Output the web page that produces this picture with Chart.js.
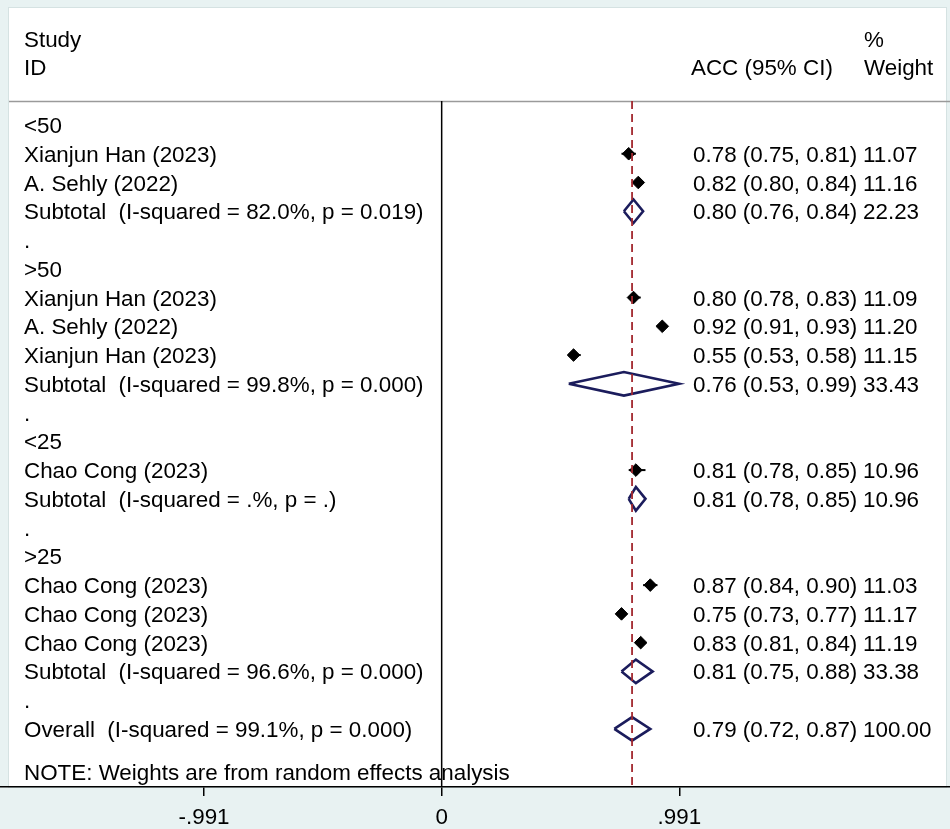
<!DOCTYPE html>
<html>
<head>
<meta charset="utf-8">
<script src="https://cdn.jsdelivr.net/npm/chart.js@4"></script>
<style>
  html, body { margin: 0; padding: 0; background: #fff; }
  #wrap { width: 950px; height: 829px; }
</style>
</head>
<body>
<div id="wrap"><canvas id="forest" width="950" height="829"></canvas></div>
<script>
// rows of the forest plot, top to bottom
const rowLabels = [
  '<50',
  'Xianjun Han (2023)',
  'A. Sehly (2022)',
  'Subtotal  (I-squared = 82.0%, p = 0.019)',
  '.',
  '>50',
  'Xianjun Han (2023)',
  'A. Sehly (2022)',
  'Xianjun Han (2023)',
  'Subtotal  (I-squared = 99.8%, p = 0.000)',
  '.',
  '<25',
  'Chao Cong (2023)',
  'Subtotal  (I-squared = .%, p = .)',
  '.',
  '>25',
  'Chao Cong (2023)',
  'Chao Cong (2023)',
  'Chao Cong (2023)',
  'Subtotal  (I-squared = 96.6%, p = 0.000)',
  '.',
  'Overall  (I-squared = 99.1%, p = 0.000)'
];
const rowKinds = ['group','study','study','subtotal','blank',
  'group','study','study','study','subtotal','blank',
  'group','study','subtotal','blank',
  'group','study','study','study','subtotal','blank','overall'];
const estimates = [null, 0.78, 0.82, 0.80, null, null, 0.80, 0.92, 0.55, 0.76, null,
  null, 0.81, 0.81, null, null, 0.87, 0.75, 0.83, 0.81, null, 0.794];
const lower = [null, 0.75, 0.80, 0.76, null, null, 0.78, 0.91, 0.53, 0.53, null,
  null, 0.78, 0.78, null, null, 0.84, 0.73, 0.81, 0.75, null, 0.72];
const upper = [null, 0.81, 0.84, 0.84, null, null, 0.83, 0.93, 0.58, 0.99, null,
  null, 0.85, 0.85, null, null, 0.90, 0.77, 0.84, 0.88, null, 0.87];
const weights = [null, 11.07, 11.16, 22.23, null, null, 11.09, 11.20, 11.15, 33.43, null,
  null, 10.96, 10.96, null, null, 11.03, 11.17, 11.19, 33.38, null, 100.00];

const tickValues = [-0.991, 0, 0.991];
const tickLabels = ['-.991', '0', '.991'];
const noteText = 'NOTE: Weights are from random effects analysis';

const FONT_FAMILY = '"Liberation Sans", Arial, sans-serif';
const FONT = '22.4px ' + FONT_FAMILY;
const NAVY = '#1b1c5c';
const Y_MIN = -0.834, Y_MAX = 23.02;

let datasets = [];

// solid line at zero
datasets.push({
  data: [{x: 0, y: Y_MIN}, {x: 0, y: Y_MAX}],
  showLine: true, borderColor: '#000', borderWidth: 1.5, pointRadius: 0
});

// dashed line at the overall estimate
const overallIdx = rowKinds.indexOf('overall');
datasets.push({
  data: [{x: estimates[overallIdx], y: Y_MIN}, {x: estimates[overallIdx], y: Y_MAX}],
  showLine: true, borderColor: '#a3282f', borderWidth: 1.8, borderDash: [8, 5], pointRadius: 0
});

// whiskers + study markers
rowKinds.forEach(function(kind, i) {
  if (kind !== 'study') return;
  datasets.push({
    data: [{x: lower[i], y: i}, {x: upper[i], y: i}],
    showLine: true, borderColor: '#000', borderWidth: 2, pointRadius: 0
  });
});
datasets.push({
  data: rowKinds.map(function(k, i) { return k === 'study' ? {x: estimates[i], y: i} : null; })
    .filter(function(p) { return p; }),
  pointStyle: 'rectRot', pointRadius: 6.3, pointBackgroundColor: '#000',
  pointBorderColor: '#000', pointBorderWidth: 1, showLine: false
});

// pooled diamonds
rowKinds.forEach(function(kind, i) {
  if (kind !== 'subtotal' && kind !== 'overall') return;
  const h = 0.41;
  datasets.push({
    data: [
      {x: lower[i], y: i}, {x: estimates[i], y: i - h}, {x: upper[i], y: i},
      {x: estimates[i], y: i + h}, {x: lower[i], y: i}
    ],
    showLine: true, borderColor: NAVY, borderWidth: 2.6, borderJoinStyle: 'miter',
    pointRadius: 0, fill: false, tension: 0
  });
});

const frame = {
  id: 'frame',
  beforeDraw: function(chart) {
    const c = chart.ctx;
    c.save();
    c.fillStyle = '#e8f2f2';
    c.fillRect(0, 0, chart.width, chart.height);
    c.fillStyle = '#fff';
    c.fillRect(8, 7, 939, chart.chartArea.bottom - 7);
    c.strokeStyle = '#d5e2e2';
    c.lineWidth = 1;
    c.strokeRect(8.5, 7.5, 938, chart.chartArea.bottom - 7);
    // header rule
    c.strokeStyle = '#9a9a9a';
    c.lineWidth = 1.5;
    c.beginPath();
    c.moveTo(9, chart.chartArea.top + 0.5);
    c.lineTo(chart.width, chart.chartArea.top + 0.5);
    c.stroke();
    c.restore();
  },
  afterDraw: function(chart) {
    const c = chart.ctx;
    const y = chart.scales.y;
    const base = function(row) { return y.getPixelForValue(row) + 8; };
    c.save();
    c.font = FONT;
    c.fillStyle = '#000';
    c.textBaseline = 'alphabetic';
    c.textAlign = 'left';
    c.fillText('Study', 24, base(-3));
    c.fillText('ID', 24, base(-2));
    c.fillText('ACC (95% CI)', 691, base(-2));
    c.fillText('%', 864, base(-3));
    c.fillText('Weight', 864, base(-2));
    rowLabels.forEach(function(label, i) {
      c.fillText(label, 24, base(i));
      if (estimates[i] !== null) {
        c.fillText(estimates[i].toFixed(2) + ' (' + lower[i].toFixed(2) + ', ' +
          upper[i].toFixed(2) + ')', 693, base(i));
        c.fillText(weights[i].toFixed(2), 863, base(i));
      }
    });
    c.fillText(noteText, 24, base(22.5));
    c.restore();
  }
};

new Chart(document.getElementById('forest'), {
  type: 'scatter',
  data: { datasets: datasets },
  options: {
    responsive: false,
    animation: false,
    devicePixelRatio: 1,
    layout: { autoPadding: false, padding: { top: 101, left: 0, right: 0, bottom: 0 } },
    plugins: { legend: { display: false }, tooltip: { enabled: false } },
    scales: {
      x: {
        type: 'linear',
        min: -1.842,
        max: 2.120,
        afterBuildTicks: function(scale) {
          scale.ticks = tickValues.map(function(v) { return {value: v}; });
        },
        afterFit: function(scale) { scale.height = 42; },
        ticks: {
          color: '#000',
          font: { family: FONT_FAMILY, size: 22.4 },
          padding: 8,
          maxRotation: 0,
          autoSkip: false,
          callback: function(value) {
            return tickLabels[tickValues.indexOf(value)];
          }
        },
        grid: { drawOnChartArea: false, drawTicks: true, tickLength: 9, color: '#000', lineWidth: 1.5 },
        border: { display: true, color: '#000', width: 1.5 }
      },
      y: {
        type: 'linear',
        display: false,
        min: Y_MIN,
        max: Y_MAX,
        reverse: true
      }
    }
  },
  plugins: [frame]
});
</script>
</body>
</html>
